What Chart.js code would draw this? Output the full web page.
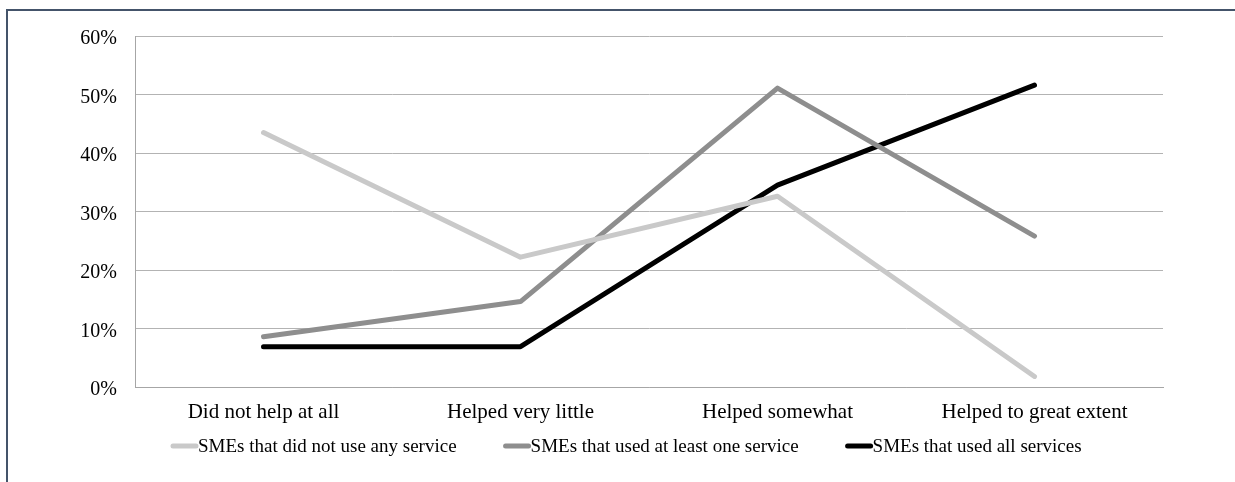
<!DOCTYPE html>
<html>
<head>
<meta charset="utf-8">
<script src="https://cdn.jsdelivr.net/npm/chart.js@4/dist/chart.umd.min.js"></script>
<style>
  html, body { margin: 0; padding: 0; background: #fff; }
  #wrap { position: relative; width: 1235px; height: 482px; overflow: hidden; }
  #frame { position: absolute; left: 6px; top: 9px; right: 0; bottom: -5px;
           border-top: 2px solid #44546a; border-left: 2px solid #44546a; }
  canvas { position: absolute; left: 0; top: 0; }
</style>
</head>
<body>
<div id="wrap">
  <div id="frame"></div>
  <canvas id="chart" width="1235" height="482"></canvas>
</div>
<script>
// categories & series (percent)
const categories = ["Did not help at all", "Helped very little", "Helped somewhat", "Helped to great extent"];
const noService   = [43.5, 22.2, 32.6, 1.8];
const oneService  = [8.6, 14.6, 51.1, 25.8];
const allServices = [6.9, 6.9, 34.5, 51.6];
const seriesNames = ["SMEs that did not use any service", "SMEs that used at least one service", "SMEs that used all services"];
const seriesColors = ["#c9c9c9", "#8e8e8e", "#000000"];

const FONT = "'Liberation Serif', 'Times New Roman', serif";

// legend drawn by hand: line marker touching its text
const lineLegend = {
  id: "lineLegend",
  afterDraw(chart) {
    const ctx = chart.ctx;
    const y = 446;
    let x = 170;
    ctx.save();
    ctx.font = "19px " + FONT;
    ctx.textBaseline = "middle";
    ctx.fillStyle = "#000";
    chart.data.datasets.forEach(ds => {
      ctx.strokeStyle = ds.borderColor;
      ctx.lineWidth = 5;
      ctx.lineCap = "round";
      ctx.beginPath();
      ctx.moveTo(x + 3, y);
      ctx.lineTo(x + 26, y);
      ctx.stroke();
      ctx.fillText(ds.label, x + 28, y + 1);
      x += 28 + ctx.measureText(ds.label).width + 46;
    });
    ctx.restore();
  }
};

const mk = (i, data) => ({
  label: seriesNames[i],
  data: data,
  borderColor: seriesColors[i],
  backgroundColor: seriesColors[i],
  borderWidth: 5,
  borderCapStyle: "round",
  borderJoinStyle: "round",
  pointRadius: 0,
  tension: 0
});

new Chart(document.getElementById("chart"), {
  type: "line",
  data: {
    labels: categories,
    datasets: [mk(0, noService), mk(1, oneService), mk(2, allServices)]
  },
  options: {
    responsive: false,
    animation: false,
    layout: { padding: { left: 0, right: 72, top: 36, bottom: 0 } },
    plugins: { legend: { display: false }, tooltip: { enabled: false } },
    scales: {
      x: {
        offset: true,
        grid: { display: false, drawTicks: false },
        border: { display: true, color: "#a6a6a6", width: 1 },
        ticks: { color: "#000", padding: 13, maxRotation: 0, font: { family: FONT, size: 21 } },
        afterFit(s) { s.height = 95; }
      },
      y: {
        min: 0, max: 60,
        grid: { color: "#b3b3b3", lineWidth: 1, drawTicks: false },
        border: { display: true, color: "#a6a6a6", width: 1 },
        ticks: { stepSize: 10, color: "#000", padding: 18, labelOffset: 3,
                 font: { family: FONT, size: 20 },
                 callback: v => v + "%" },
        afterFit(s) { s.width = 135; }
      }
    }
  },
  plugins: [lineLegend]
});
</script>
</body>
</html>
